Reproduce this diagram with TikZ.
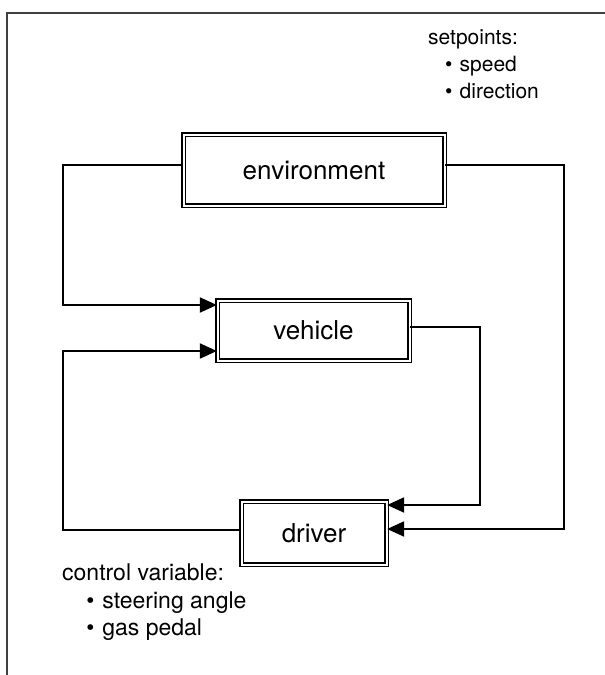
\documentclass[tikz,border=0pt]{standalone}
\usepackage{fontspec}
\setmainfont{TeX Gyre Heros}
\usetikzlibrary{arrows.meta}

\begin{document}
\begin{tikzpicture}[x=1pt,y=-1pt,
		block/.style={draw, double, line width=1.3pt, double distance=2pt, inner sep=0pt, font=\fontsize{26}{30}\selectfont},
		flow/.style={line width=2.1pt, -{Triangle[length=17pt,width=15pt]}},
		note/.style={anchor=north west, align=left, inner sep=0pt}]
			\useasboundingbox (0,0) rectangle (605,675);
			% open frame
			\draw[line width=1.4pt, color=black!75] (7,675) -- (7,13) -- (605,13);
			% blocks
			\node[block, minimum width=261pt, minimum height=71pt] (env) at (314,170) {environment};
			\node[block, minimum width=192pt, minimum height=60pt] (veh) at (313.5,330.5) {vehicle};
			\node[block, minimum width=145pt, minimum height=63pt] (drv) at (314,533) {driver};
			% corners
			\coordinate (cA) at (63,305);
			\coordinate (cB) at (63,351);
			\coordinate (cC) at (480,505);
			\coordinate (cD) at (564,529);
			% connectors
			\draw[flow] ([yshift=5pt]env.west) -| (cA) -- ([yshift=25.5pt]veh.west);
			\draw[flow] ([yshift=3pt]drv.west) -| (cB) -- ([yshift=-20.5pt]veh.west);
			\draw[flow] ([yshift=3.5pt]veh.east) -| (cC) -- ([yshift=28pt]drv.east);
			\draw[flow] ([yshift=5pt]env.east) -| (cD) -- ([yshift=4pt]drv.east);
			% notes
			\node[note, font=\fontsize{21}{27}\selectfont] (setp) at (428,29) {setpoints:\\\hspace*{0.8em}\textbullet\hspace{0.35em}speed\\\hspace*{0.8em}\textbullet\hspace{0.35em}direction};
			\node[note, font=\fontsize{23}{27.5}\selectfont] (ctrl) at (62,564) {control variable:\\\hspace*{1.05em}\textbullet\hspace{0.35em}steering angle\\\hspace*{1.05em}\textbullet\hspace{0.35em}gas pedal};
		\end{tikzpicture}
\end{document}
